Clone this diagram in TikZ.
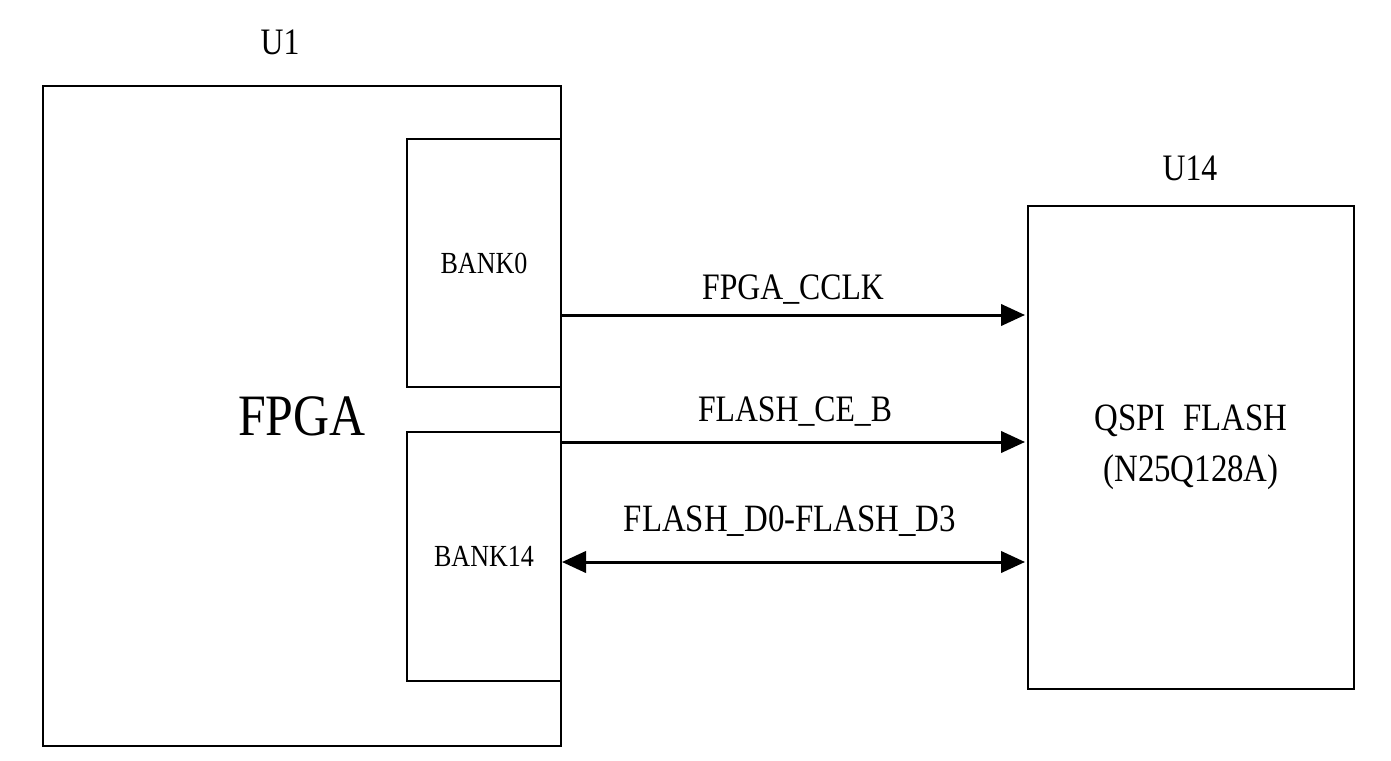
\documentclass[tikz,border=0pt]{standalone}
\usepackage{fontspec}
\setmainfont{Liberation Serif}[FakeStretch=0.85]
\usetikzlibrary{arrows.meta}
\begin{document}
\begin{tikzpicture}[
        x=0.75pt, y=-0.75pt,
        chip/.style={rectangle, draw=black, line width=1.5pt, inner sep=0pt, font=\fontsize{28}{32}\selectfont, align=center},
        bank/.style={chip, minimum width=115.5pt, minimum height=186.5pt, font=\fontsize{23}{26}\selectfont},
        lbl/.style={inner sep=0pt, font=\fontsize{28}{32}\selectfont},
        sig/.style={line width=2.25pt, -{Triangle[length=18pt,width=16pt]}},
        bus/.style={line width=2.25pt, {Triangle[length=18pt,width=16pt]}-{Triangle[length=18pt,width=16pt]}}
    ]
    \useasboundingbox (0,0) rectangle (1391,760);
    % chips
    \node[chip, minimum width=388.5pt, minimum height=495pt, font=\fontsize{44}{48}\selectfont] (fpga) at (302,416) {FPGA};
    \node[bank] (bank0) at (484,263) {BANK0};
    \node[bank] (bank14) at (484,556.5) {BANK14};
    \node[chip, minimum width=244.5pt, minimum height=362pt, font=\fontsize{29}{38}\selectfont] (flash) at (1191,447.5) {QSPI\hspace{0.45em}FLASH\\(N25Q128A)};
    \node[lbl] (u1) at (280,42) {U1};
    \node[lbl] (u14) at (1190,168) {U14};
    % signals
    \coordinate (cclk) at (1025,315);
    \coordinate (ceb) at (1025,442);
    \coordinate (dq) at (1025,562);
    \draw[sig] (bank0.east |- cclk) -- (cclk);
    \draw[sig] (bank14.east |- ceb) -- (ceb);
    \draw[bus] (bank14.east |- dq) -- (dq);
    \node[lbl] (lcclk) at (793,290) {FPGA\_CCLK};
    \node[lbl] (lceb) at (795,412) {FLASH\_CE\_B};
    \node[lbl, font=\fontsize{29}{32}\selectfont] (ldq) at (790,521) {FLASH\_D0-FLASH\_D3};
\end{tikzpicture}
\end{document}
